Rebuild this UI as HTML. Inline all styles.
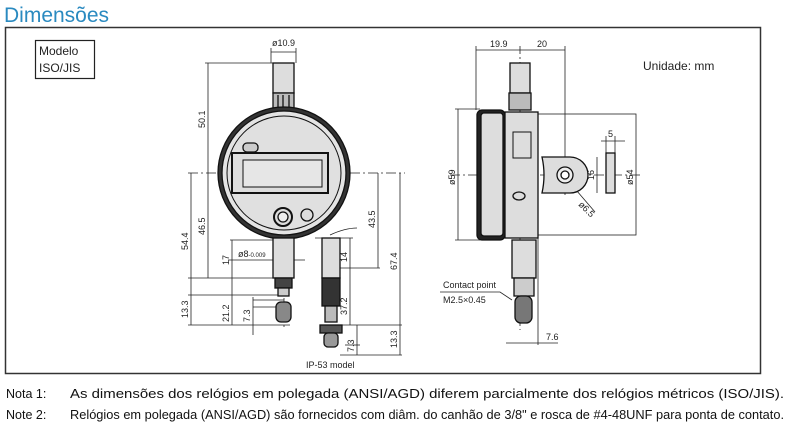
<!DOCTYPE html>
<html><head><meta charset="utf-8"><style>
body{margin:0;width:786px;height:431px;background:#fff;overflow:hidden;font-family:"Liberation Sans",sans-serif}
svg{position:absolute;left:0;top:0}
</style></head><body>
<svg width="786" height="431" viewBox="0 0 786 431" font-family="Liberation Sans, sans-serif">
<text x="4" y="22" font-size="21" fill="#2a8ac0">Dimensões</text>
<rect x="5.5" y="27.5" width="755" height="346" fill="none" stroke="#333" stroke-width="1.5"/>
<rect x="35.5" y="40.5" width="59" height="38" fill="none" stroke="#222" stroke-width="1.2"/>
<text x="39" y="55" font-size="12" fill="#222">Modelo</text>
<text x="39" y="72" font-size="12" fill="#222">ISO/JIS</text>
<text x="643" y="70" font-size="12" fill="#222">Unidade: mm</text>

<g stroke="#222" fill="none" stroke-width="0.8">
<line x1="271" y1="52" x2="296" y2="52"/><line x1="271" y1="48" x2="271" y2="63"/><line x1="296" y1="48" x2="296" y2="63"/>
<line x1="205" y1="63" x2="273" y2="63"/><line x1="208" y1="63" x2="208" y2="173"/>
<line x1="188" y1="173" x2="405" y2="173" stroke-dasharray="10,3,2,3"/>
<line x1="191" y1="173" x2="191" y2="295"/><line x1="208" y1="173" x2="208" y2="278"/>
<line x1="188" y1="278" x2="278" y2="278"/><line x1="188" y1="295" x2="278" y2="295"/>
<line x1="230" y1="240" x2="273" y2="240"/><line x1="232" y1="240" x2="232" y2="325"/>
<line x1="228" y1="260" x2="305" y2="260"/>
<line x1="191" y1="295" x2="191" y2="325"/><line x1="188" y1="325" x2="290" y2="325"/>
<line x1="253" y1="297" x2="253" y2="335"/><line x1="253" y1="300" x2="284" y2="300"/><line x1="253" y1="307" x2="284" y2="307"/>
<line x1="378" y1="173" x2="378" y2="268"/><line x1="340" y1="268" x2="380" y2="268"/>
<line x1="400" y1="173" x2="400" y2="355"/><line x1="340" y1="325" x2="402" y2="325"/><line x1="340" y1="355" x2="402" y2="355"/>
<line x1="350" y1="238" x2="350" y2="325"/><line x1="315" y1="238" x2="353" y2="238"/>
<line x1="357" y1="325" x2="357" y2="355"/><line x1="345" y1="345" x2="360" y2="345"/>
<path d="M330 235 Q345 228 357 228"/>
<line x1="284" y1="170" x2="284" y2="330" stroke-dasharray="8,3,2,3"/>
</g>
<g stroke="#111" stroke-width="1.3">
<rect x="273" y="63" width="21" height="30" fill="#ddd"/>
<rect x="273" y="93" width="21" height="18" fill="#bbb"/>
<line x1="278" y1="95" x2="278" y2="109"/><line x1="283" y1="95" x2="283" y2="109"/><line x1="289" y1="95" x2="289" y2="109"/>
<circle cx="284" cy="173" r="66" fill="#333"/>
<circle cx="284" cy="173" r="62" fill="#e4e4e4"/>
<circle cx="284" cy="173" r="57" fill="#e0e0e0" stroke-width="1"/>
<rect x="232" y="153" width="96" height="40" fill="#ddd" stroke-width="2"/>
<rect x="243" y="160" width="79" height="27" fill="#e6e6e6" stroke-width="1"/>
<rect x="243" y="143" width="15" height="9" rx="4" fill="#ccc"/>
<circle cx="283" cy="217" r="9" fill="#ddd" stroke-width="2"/><circle cx="283" cy="217" r="5" fill="#eee"/>
<circle cx="307" cy="215" r="6" fill="#ddd"/>
<rect x="273" y="238" width="21" height="40" fill="#ddd"/>
<rect x="275" y="278" width="17" height="10" fill="#444"/>
<rect x="278" y="288" width="11" height="8" fill="#ccc"/>
<rect x="276" y="302" width="15" height="20" rx="5" fill="#888"/>
<rect x="322" y="238" width="18" height="40" fill="#ddd"/>
<rect x="322" y="278" width="18" height="28" fill="#333"/>
<rect x="325" y="306" width="12" height="16" fill="#bbb"/>
<rect x="320" y="325" width="22" height="8" fill="#555"/>
<rect x="324" y="333" width="14" height="14" rx="4" fill="#999"/>
</g>
<g font-size="9" fill="#222">
<text x="272" y="46">ø10.9</text>
<text transform="translate(205,128) rotate(-90)">50.1</text>
<text transform="translate(188,250) rotate(-90)">54.4</text>
<text transform="translate(205,235) rotate(-90)">46.5</text>
<text transform="translate(229,265) rotate(-90)">17</text>
<text x="238" y="257">ø8<tspan font-size="6">-0.009</tspan></text>
<text transform="translate(188,318) rotate(-90)">13.3</text>
<text transform="translate(229,322) rotate(-90)">21.2</text>
<text transform="translate(250,322) rotate(-90)">7.3</text>
<text transform="translate(375,228) rotate(-90)">43.5</text>
<text transform="translate(397,270) rotate(-90)">67.4</text>
<text transform="translate(347,262) rotate(-90)">14</text>
<text transform="translate(347,315) rotate(-90)">37.2</text>
<text transform="translate(397,348) rotate(-90)">13.3</text>
<text transform="translate(354,352) rotate(-90)">7.3</text>
<text x="306" y="368">IP-53 model</text>
</g>

<g stroke="#222" fill="none" stroke-width="0.8">
<line x1="476" y1="46" x2="476" y2="110"/><line x1="565" y1="46" x2="565" y2="195"/>
<line x1="476" y1="50" x2="565" y2="50"/><line x1="520" y1="46" x2="520" y2="330" stroke-dasharray="8,3,2,3"/>
<line x1="455" y1="109" x2="480" y2="109"/><line x1="455" y1="240" x2="480" y2="240"/><line x1="458" y1="109" x2="458" y2="240"/>
<line x1="450" y1="175" x2="640" y2="175" stroke-dasharray="10,3,2,3"/>
<rect x="538" y="114" width="98" height="121"/>
<line x1="597" y1="157" x2="597" y2="193"/>
<line x1="601" y1="141" x2="625" y2="141"/><line x1="606" y1="136" x2="606" y2="153"/><line x1="615" y1="136" x2="615" y2="153"/>
<line x1="552" y1="162" x2="595" y2="212"/>
<line x1="538" y1="235" x2="538" y2="345"/><line x1="506" y1="343" x2="558" y2="343"/>
<polyline points="440,292 500,292 512,300"/>
</g>
<g stroke="#111" stroke-width="1.3">
<rect x="510" y="63" width="20" height="30" fill="#ddd"/>
<rect x="509" y="93" width="22" height="17" fill="#bbb"/>
<rect x="477" y="110" width="28" height="130" rx="5" fill="#222"/>
<rect x="481" y="113" width="22" height="123" rx="3" fill="#ddd"/>
<rect x="505" y="112" width="33" height="126" fill="#ddd"/>
<rect x="513" y="132" width="18" height="26" fill="none" stroke-width="1"/>
<ellipse cx="519" cy="196" rx="6" ry="4" fill="#ddd"/>
<path d="M542 157 H570 A18 18 0 0 1 570 193 H542 Q546 175 542 157Z" fill="#ddd"/>
<circle cx="565" cy="175" r="8" fill="#eee"/><circle cx="565" cy="175" r="4" fill="#fff"/>
<rect x="606" y="153" width="9" height="40" fill="#ddd"/>
<rect x="512" y="240" width="24" height="38" fill="#ddd"/>
<rect x="514" y="278" width="20" height="18" fill="#ccc"/>
<rect x="515" y="296" width="17" height="27" rx="6" fill="#777"/>
</g>
<g font-size="9" fill="#222">
<text x="490" y="47">19.9</text><text x="537" y="47">20</text>
<text transform="translate(455,185) rotate(-90)">ø59</text>
<text transform="translate(633,185) rotate(-90)">ø54</text>
<text transform="translate(594,180) rotate(-90)">16</text>
<text x="608" y="137">5</text>
<text transform="translate(578,205) rotate(45)">ø6.5</text>
<text x="443" y="288">Contact point</text>
<text x="443" y="303">M2.5×0.45</text>
<text x="546" y="340">7.6</text>
</g>
<g font-size="12.5" fill="#111">
<text x="6" y="398">Nota 1:</text>
<text x="70" y="398" textLength="714" lengthAdjust="spacingAndGlyphs">As dimensões dos relógios em polegada (ANSI/AGD) diferem parcialmente dos relógios métricos (ISO/JIS).</text>
<text x="6" y="419">Note 2:</text>
<text x="70" y="419" textLength="714" lengthAdjust="spacingAndGlyphs">Relógios em polegada (ANSI/AGD) são fornecidos com diâm. do canhão de 3/8" e rosca de #4-48UNF para ponta de contato.</text>
</g>
</svg>
</body></html>
